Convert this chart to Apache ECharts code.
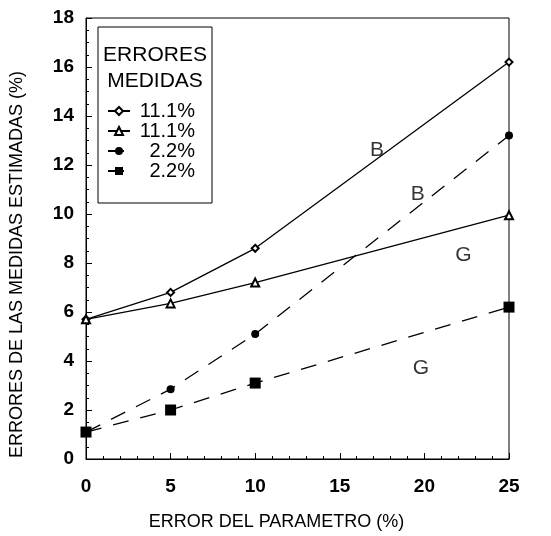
<!DOCTYPE html>
<html><head><meta charset="utf-8">
<script src="https://cdn.jsdelivr.net/npm/echarts@6/dist/echarts.min.js"></script>
<style>html,body{margin:0;padding:0;background:#fff}#c{width:551px;height:536px}</style>
</head><body><div id="c"></div>
<script>
const xValues = [0, 5, 10, 25];
const diamond111 = [5.7, 6.8, 8.6, 16.2];
const triangle111 = [5.7, 6.35, 7.2, 9.95];
const circle22 = [1.1, 2.85, 5.1, 13.2];
const square22 = [1.1, 2.0, 3.1, 6.2];
const curveLabels = [
  {text: 'B', x: 17.2, y: 12.6},
  {text: 'B', x: 19.6, y: 10.8},
  {text: 'G', x: 22.3, y: 8.3},
  {text: 'G', x: 19.8, y: 3.7}
];
const xTitle = 'ERROR DEL PARAMETRO (%)';
const yTitle = 'ERRORES DE LAS MEDIDAS ESTIMADAS (%)';
const legendTitle = ['ERRORES', 'MEDIDAS'];

const FONT = '"Liberation Sans", Arial, sans-serif';
const pts = arr => xValues.map((x, i) => [x, arr[i]]);
const chart = echarts.init(document.getElementById('c'), null, {renderer: 'canvas'});
const lineBase = {type: 'line', color: '#000', animation: false};
chart.setOption({
  backgroundColor: '#fff',
  textStyle: {fontFamily: FONT},
  grid: {left: 85, right: 42, top: 18, bottom: 73, show: true, borderColor: '#000', borderWidth: 1},
  xAxis: {
    type: 'value', min: 0, max: 25, interval: 5,
    name: xTitle, nameLocation: 'middle', nameGap: 54,
    nameTextStyle: {fontSize: 18, color: '#000', fontFamily: FONT, padding: [0, 42, 0, 0]},
    axisLine: {lineStyle: {color: '#000', width: 1}},
    axisTick: {inside: true, length: 6, lineStyle: {color: '#000'}},
    minorTick: {show: true, splitNumber: 5, length: 3, lineStyle: {color: '#000'}},
    axisLabel: {fontSize: 19, fontWeight: 'bold', color: '#000', margin: 18, fontFamily: FONT},
    splitLine: {show: false}
  },
  yAxis: {
    type: 'value', min: 0, max: 18, interval: 2,
    name: yTitle, nameLocation: 'middle', nameGap: 60, nameRotate: 90,
    nameTextStyle: {fontSize: 18, color: '#000', fontFamily: FONT, padding: [0, 52, 0, 0]},
    axisLine: {lineStyle: {color: '#000', width: 1}},
    axisTick: {inside: true, length: 6, lineStyle: {color: '#000'}},
    minorTick: {show: true, splitNumber: 4, length: 3, lineStyle: {color: '#000'}},
    axisLabel: {fontSize: 19, fontWeight: 'bold', color: '#000', margin: 12, fontFamily: FONT},
    splitLine: {show: false}
  },
  legend: {
    orient: 'vertical', left: 102, top: 96, itemGap: 0, itemWidth: 22, itemHeight: 10,
    selectedMode: false,
    data: ['11.1%', '11.1% ', '2.2%', '2.2% '],
    formatter: n => '{a|' + n.trim() + '}',
    textStyle: {fontSize: 20, color: '#000', fontFamily: FONT,
      rich: {a: {fontSize: 20, color: '#000', fontFamily: FONT, width: 60, align: 'right', lineHeight: 22}}}
  },
  graphic: [
    {type: 'rect', shape: {x: 98, y: 27, width: 114, height: 176}, style: {fill: 'none', stroke: '#000', lineWidth: 1}, z: 50},
    {type: 'text', x: 155, y: 42, style: {text: legendTitle.join('\n'), font: '21px ' + FONT, fill: '#000', textAlign: 'center', lineHeight: 26}, z: 51}
  ],
  series: [
    Object.assign({}, lineBase, {name: '11.1%', data: pts(diamond111), symbol: 'emptyDiamond', symbolSize: 7, lineStyle: {color: '#000', width: 1.3}, itemStyle: {color: '#000', borderColor: '#000', borderWidth: 1}}),
    Object.assign({}, lineBase, {name: '11.1% ', data: pts(triangle111), symbol: 'emptyTriangle', symbolSize: 8, lineStyle: {color: '#000', width: 1.3}, itemStyle: {color: '#000', borderColor: '#000', borderWidth: 1.2}}),
    Object.assign({}, lineBase, {name: '2.2%', data: pts(circle22), symbol: 'circle', symbolSize: 8, lineStyle: {color: '#000', width: 1.3, type: [16, 12]}, itemStyle: {color: '#000'}}),
    Object.assign({}, lineBase, {name: '2.2% ', data: pts(square22), symbol: 'rect', symbolSize: 11, lineStyle: {color: '#000', width: 1.3, type: [16, 12]}, itemStyle: {color: '#000'}}),
    {type: 'scatter', silent: true, symbolSize: 0, animation: false,
     data: curveLabels.map(l => ({value: [l.x, l.y], name: l.text})),
     label: {show: true, position: 'inside', formatter: p => p.name, fontSize: 21, color: '#000', fontFamily: FONT}}
  ]
});
</script></body></html>
